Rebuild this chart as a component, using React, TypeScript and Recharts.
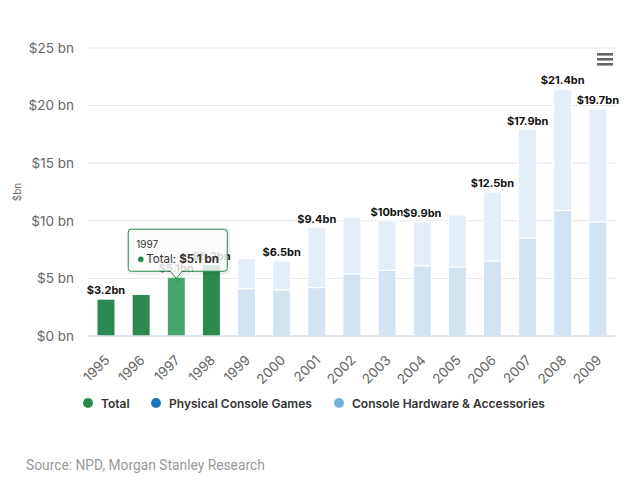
import React from 'react';
import { BarChart, Bar, XAxis, YAxis, CartesianGrid, LabelList, Cell } from 'recharts';

const years = ['1995', '1996', '1997', '1998', '1999', '2000', '2001', '2002', '2003', '2004', '2005', '2006', '2007', '2008', '2009'];
const totalSeries: (number | null)[] = [3.2, 3.6, 5.1, 6.2, null, null, null, null, null, null, null, null, null, null, null];
const physicalGames: (number | null)[] = [null, null, null, null, 4.1, 4.0, 4.2, 5.4, 5.7, 6.1, 6.0, 6.5, 8.5, 10.9, 9.9];
const hardwareAccessories: (number | null)[] = [null, null, null, null, 2.6, 2.5, 5.2, 4.9, 4.3, 3.8, 4.5, 6.0, 9.4, 10.5, 9.8];
const totalLabels: (number | null)[] = [3.2, null, 5.1, 6.2, null, 6.5, 9.4, null, 10, 9.9, null, 12.5, 17.9, 21.4, 19.7];
const yTicks = [0, 5, 10, 15, 20, 25];
const hoveredIndex = 2;

const GREEN = '#2c8a50';
const GREEN_HOVER = '#49a46d';
const PHYS_FADED = '#d4e3f1';
const HW_FADED = '#e4eef8';

const FONT = 'Inter, "Open Sans", sans-serif';

const rows = years.map((year, i) => ({
  year,
  total: totalSeries[i],
  physical: physicalGames[i],
  hardware: hardwareAccessories[i],
  totalLabel: totalSeries[i] != null ? totalLabels[i] : null,
  stackLabel: hardwareAccessories[i] != null ? totalLabels[i] : null,
  tip: i === hoveredIndex ? totalSeries[i] : null,
}));

const box = (props: any) => {
  const vb = props.viewBox || {};
  const x = vb.x ?? props.x;
  const y = vb.y ?? props.y;
  const w = vb.width ?? props.width;
  return { x, y, w };
};

const ValueLabel = (props: any) => {
  const { value } = props;
  if (value == null) return null;
  const { x, y, w } = box(props);
  return (
    <text
      x={x + w / 2}
      y={y - 5}
      textAnchor="middle"
      fontSize={11}
      fontWeight={700}
      fill="#111"
      stroke="#fff"
      strokeWidth={2}
      strokeLinejoin="round"
      style={{ paintOrder: 'stroke', fontFamily: FONT }}
    >{`$${value}bn`}</text>
  );
};

const TooltipCallout = (props: any) => {
  const { value } = props;
  if (value == null) return null;
  const { x, y, w } = box(props);
  const cx = x + w / 2;
  const tipY = y + 1;
  const l = cx - 48;
  const r = cx + 51;
  const t = y - 48;
  const b = y - 6;
  const rad = 3;
  const d = `M ${l + rad} ${t} L ${r - rad} ${t} Q ${r} ${t} ${r} ${t + rad} L ${r} ${b - rad} Q ${r} ${b} ${r - rad} ${b} L ${cx + 6} ${b} L ${cx} ${tipY} L ${cx - 6} ${b} L ${l + rad} ${b} Q ${l} ${b} ${l} ${b - rad} L ${l} ${t + rad} Q ${l} ${t} ${l + rad} ${t} Z`;
  return (
    <g style={{ fontFamily: FONT }}>
      <path d={d} fill="none" stroke="rgba(0,0,0,0.06)" strokeWidth={5} transform="translate(1,1)" />
      <path d={d} fill="rgba(250,250,250,0.85)" stroke={GREEN} strokeWidth={1} />
      <text x={l + 8} y={t + 19} fontSize={10} fill="#333">{years[hoveredIndex]}</text>
      <circle cx={l + 12.5} cy={t + 30} r={2.8} fill={GREEN} />
      <text x={l + 18} y={t + 34} fontSize={11.5} fill="#333">
        Total: <tspan fontWeight={700}>{`$${value} bn`}</tspan>
      </text>
    </g>
  );
};

const XTick = (props: any) => {
  const { x, y, payload } = props;
  return (
    <text
      x={x + 5}
      y={y + 17}
      textAnchor="end"
      fontSize={13.5}
      fill="#666"
      transform={`rotate(-45, ${x + 5}, ${y + 17})`}
      style={{ fontFamily: FONT }}
    >{payload.value}</text>
  );
};

const YTitle = (props: any) => {
  const vb = props.viewBox || {};
  const cx = 17;
  const cy = (vb.y ?? 48) + (vb.height ?? 288) / 2;
  return (
    <text x={cx} y={cy} textAnchor="middle" dominantBaseline="central" fontSize={10} fill="#666"
      transform={`rotate(-90, ${cx}, ${cy})`} style={{ fontFamily: FONT }}>$bn</text>
  );
};

const legendItems = [
  { name: 'Total', color: '#2c8a50', left: 83 },
  { name: 'Physical Console Games', color: '#1c78bd', left: 151 },
  { name: 'Console Hardware & Accessories', color: '#72b0dc', left: 334 },
];

export default function App() {
  return (
    <div style={{ position: 'relative', width: 636, height: 480, margin: '-8px 0 0 -8px', background: '#fff', fontFamily: FONT }}>
      <BarChart width={636} height={480} data={rows} margin={{ top: 48, right: 21, left: 0, bottom: 100 }}>
        <CartesianGrid vertical={false} stroke="#e6e6e6" />
        <XAxis
          dataKey="year"
          interval={0}
          tickLine={false}
          axisLine={{ stroke: '#ccd6eb' }}
          height={44}
          tick={<XTick />}
        />
        <YAxis
          width={88}
          domain={[0, 25]}
          ticks={yTicks}
          tickLine={false}
          axisLine={false}
          tickMargin={8}
          tick={{ fontSize: 13.5, fill: '#666', fontFamily: FONT }}
          tickFormatter={(v: number) => `$${v} bn`}
          label={<YTitle />}
        />
        <Bar dataKey="total" stackId="a" barSize={18} stroke="#fff" strokeWidth={1} isAnimationActive={false}>
          {rows.map((r, i) => (
            <Cell key={r.year} fill={i === hoveredIndex ? GREEN_HOVER : GREEN} />
          ))}
          <LabelList dataKey="totalLabel" content={<ValueLabel />} />
          <LabelList dataKey="tip" content={<TooltipCallout />} />
        </Bar>
        <Bar dataKey="physical" stackId="a" barSize={18} fill={PHYS_FADED} stroke="#fff" strokeWidth={1} isAnimationActive={false} />
        <Bar dataKey="hardware" stackId="a" barSize={18} fill={HW_FADED} stroke="#fff" strokeWidth={1} isAnimationActive={false}>
          <LabelList dataKey="stackLabel" content={<ValueLabel />} />
        </Bar>
      </BarChart>

      <svg style={{ position: 'absolute', left: 597, top: 53 }} width={16} height={14}>
        <rect x={0} y={0} width={16} height={2.6} fill="#666" />
        <rect x={0} y={5} width={16} height={2.6} fill="#666" />
        <rect x={0} y={10} width={16} height={2.6} fill="#666" />
      </svg>

      {legendItems.map((it) => (
        <div key={it.name} style={{ position: 'absolute', left: it.left, top: 395, display: 'flex', alignItems: 'center', height: 16 }}>
          <span style={{ width: 10, height: 10, borderRadius: 5, background: it.color, display: 'inline-block', marginRight: 8 }} />
          <span style={{ fontSize: 12, fontWeight: 600, color: '#333', whiteSpace: 'nowrap' }}>{it.name}</span>
        </div>
      ))}

      <div style={{ position: 'absolute', left: 26, top: 457, fontSize: 13.8, color: '#999', fontFamily: 'Roboto, sans-serif', whiteSpace: 'nowrap' }}>
        Source: NPD, Morgan Stanley Research
      </div>
    </div>
  );
}
